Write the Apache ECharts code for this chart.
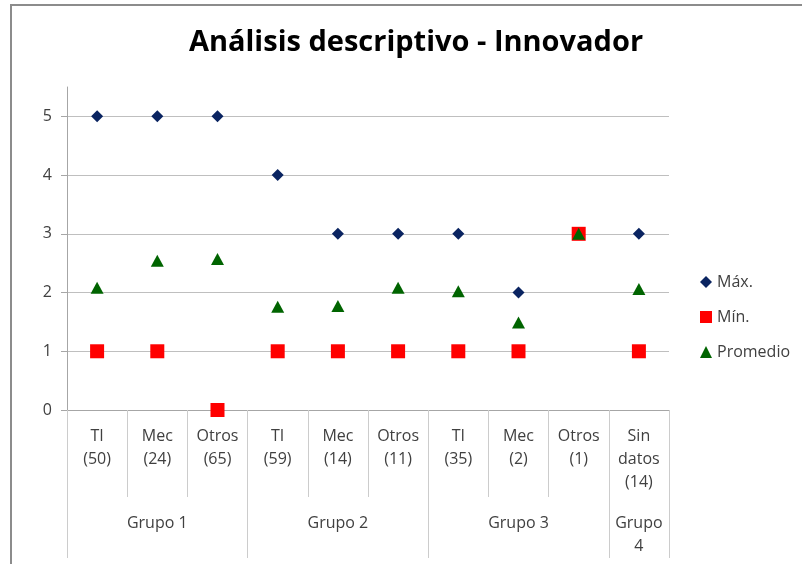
<!DOCTYPE html>
<html>
<head>
<meta charset="utf-8">
<script src="https://cdn.jsdelivr.net/npm/echarts@6/dist/echarts.min.js"></script>
<style>
  html, body { margin: 0; padding: 0; background: #fff; }
  #frame { position: absolute; left: 10px; top: 4px; width: 820px; height: 600px;
           border-left: 2px solid #8c8c8c; border-top: 2px solid #8c8c8c; }
  #chart { position: absolute; left: 0; top: 0; width: 802px; height: 564px; }
</style>
</head>
<body>
<div id="frame"></div>
<div id="chart"></div>
<script>
const categorias = ['TI\n(50)', 'Mec\n(24)', 'Otros\n(65)', 'TI\n(59)', 'Mec\n(14)', 'Otros\n(11)',
    'TI\n(35)', 'Mec\n(2)', 'Otros\n(1)', 'Sin\ndatos\n(14)'];
const grupos = ['', 'Grupo 1', '', '', 'Grupo 2', '', '', 'Grupo 3', '', 'Grupo\n4'];
const inicioGrupo = [0, 3, 6, 9];

const maximo = [5, 5, 5, 4, 3, 3, 3, 2, 3, 3];
const minimo = [1, 1, 0, 1, 1, 1, 1, 1, 3, 1];
const promedio = [2.08, 2.54, 2.57, 1.76, 1.77, 2.08, 2.02, 1.49, 3, 2.06];

const fuente = '"Open Sans", "Noto Sans", sans-serif';
const gris = '#404040';

const myChart = echarts.init(document.getElementById('chart'));

const option = {
    textStyle: { fontFamily: fuente },
    title: {
        text: 'Análisis descriptivo - Innovador',
        left: 411,
        top: 23,
        textAlign: 'center',
        textStyle: { fontFamily: fuente, fontSize: 29, fontWeight: 'bold', color: '#000' }
    },
    legend: {
        orient: 'vertical',
        left: 695,
        top: 268,
        itemWidth: 12,
        itemHeight: 12,
        itemGap: 17,
        textStyle: { fontFamily: fuente, fontSize: 16, lineHeight: 18, color: gris },
        data: [
            { name: 'Máx.', icon: 'diamond' },
            { name: 'Mín.', icon: 'rect' },
            { name: 'Promedio', icon: 'triangle' }
        ]
    },
    grid: { left: 67, right: 133, top: 87, bottom: 154 },
    xAxis: [
        {
            type: 'category',
            data: categorias,
            boundaryGap: true,
            axisLine: { show: true, lineStyle: { color: '#a6a6a6' } },
            axisTick: { show: true, interval: 0, length: 87, lineStyle: { color: '#cccccc' } },
            axisLabel: { interval: 0, margin: 15, fontSize: 16, lineHeight: 23, color: gris, fontFamily: fuente }
        },
        {
            type: 'category',
            data: grupos,
            position: 'bottom',
            offset: 87,
            boundaryGap: true,
            axisLine: { show: false },
            axisTick: {
                show: true,
                length: 61,
                interval: function (i) { return inicioGrupo.indexOf(i) >= 0; },
                lineStyle: { color: '#cccccc' }
            },
            axisLabel: { interval: 0, margin: 15, fontSize: 16, lineHeight: 23, color: gris, fontFamily: fuente }
        }
    ],
    yAxis: {
        type: 'value',
        min: 0,
        max: 5.5,
        interval: 1,
        axisLine: { show: true, lineStyle: { color: '#a6a6a6' } },
        axisTick: { show: true, length: 6, lineStyle: { color: '#a6a6a6' } },
        axisLabel: { margin: 15, fontSize: 16, color: gris, fontFamily: fuente, showMaxLabel: false },
        splitLine: { show: true, showMaxLine: false, lineStyle: { color: '#bfbfbf' } }
    },
    series: [
        {
            name: 'Máx.',
            type: 'scatter',
            symbol: 'diamond',
            symbolSize: 12,
            itemStyle: { color: '#0a2461', opacity: 1 },
            data: maximo
        },
        {
            name: 'Mín.',
            type: 'scatter',
            symbol: 'rect',
            symbolSize: 14,
            itemStyle: { color: '#ff0000', opacity: 1 },
            data: minimo
        },
        {
            name: 'Promedio',
            type: 'scatter',
            symbol: 'triangle',
            symbolSize: [13, 12],
            itemStyle: { color: '#006400', opacity: 1 },
            data: promedio
        }
    ]
};

myChart.setOption(option);
</script>
</body>
</html>
